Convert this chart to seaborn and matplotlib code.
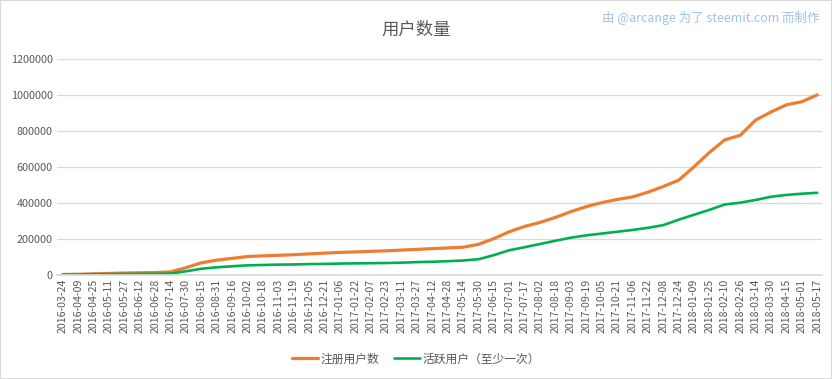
import numpy as np
import pandas as pd
import seaborn as sns
import matplotlib.pyplot as plt
from matplotlib.patches import Rectangle

# Tick dates (every 16 days) and values at those dates
tick_labels = [
    "2016-03-24", "2016-04-09", "2016-04-25", "2016-05-11", "2016-05-27",
    "2016-06-12", "2016-06-28", "2016-07-14", "2016-07-30", "2016-08-15",
    "2016-08-31", "2016-09-16", "2016-10-02", "2016-10-18", "2016-11-03",
    "2016-11-19", "2016-12-05", "2016-12-21", "2017-01-06", "2017-01-22",
    "2017-02-07", "2017-02-23", "2017-03-11", "2017-03-27", "2017-04-12",
    "2017-04-28", "2017-05-14", "2017-05-30", "2017-06-15", "2017-07-01",
    "2017-07-17", "2017-08-02", "2017-08-18", "2017-09-03", "2017-09-19",
    "2017-10-05", "2017-10-21", "2017-11-06", "2017-11-22", "2017-12-08",
    "2017-12-24", "2018-01-09", "2018-01-25", "2018-02-10", "2018-02-26",
    "2018-03-14", "2018-03-30", "2018-04-15", "2018-05-01", "2018-05-17",
]

registered = [
    0, 1500, 4000, 6000, 8000, 9500, 11000, 15000, 38000, 65000,
    80000, 90000, 100000, 104000, 107000, 110000, 115000, 119000, 123000, 126000,
    129000, 132000, 136000, 140000, 144000, 148000, 152000, 168000, 200000, 238000,
    268000, 290000, 318000, 350000, 378000, 400000, 418000, 432000, 458000, 490000,
    525000, 600000, 680000, 750000, 775000, 860000, 905000, 945000, 962000, 1000000,
]

active = [
    0, 500, 1000, 2000, 3000, 3500, 4000, 5000, 18000, 32000,
    40000, 46000, 51000, 53000, 55000, 56000, 58000, 59000, 61000, 62000,
    63000, 64000, 66000, 69000, 71000, 74000, 78000, 85000, 108000, 135000,
    152000, 170000, 188000, 205000, 218000, 228000, 238000, 248000, 260000, 275000,
    305000, 333000, 360000, 390000, 400000, 415000, 433000, 443000, 450000, 455000,
]

series_names = ["注册用户数", "活跃用户（至少一次）"]
colors = ["#ED7D31", "#00B050"]
text_grey = "#595959"

sns.set_theme(style="white")
plt.rcParams["font.family"] = ["Noto Sans CJK SC", "DejaVu Sans"]

dates = pd.to_datetime(tick_labels)
df = pd.DataFrame({"date": dates, series_names[0]: registered, series_names[1]: active})

fig = plt.figure(figsize=(8.32, 3.79), dpi=100)
ax = fig.add_axes([0.0685, 0.2757, 0.9195, 0.5686])

sns.lineplot(data=df, x="date", y=series_names[0], ax=ax, color=colors[0], lw=2.3, label=series_names[0])
sns.lineplot(data=df, x="date", y=series_names[1], ax=ax, color=colors[1], lw=1.9, label=series_names[1])

ax.set_xlim(dates[0] - pd.Timedelta(days=6), dates[-1] + pd.Timedelta(days=5))
ax.set_xticks(dates)
ax.set_xticklabels(tick_labels, rotation=90, fontsize=7.6, color=text_grey)
ax.set_ylim(0, 1200000)
yticks = np.arange(0, 1200001, 200000)
ax.set_yticks(yticks)
ax.set_yticklabels([str(v) for v in yticks], fontsize=7.8, color=text_grey)
ax.yaxis.grid(True, color="#D9D9D9", lw=0.9)
ax.tick_params(length=0, pad=3)
ax.set_xlabel("")
ax.set_ylabel("")
for side in ["top", "left", "right"]:
    ax.spines[side].set_visible(False)
ax.spines["bottom"].set_color("#D9D9D9")

handles, labels = ax.get_legend_handles_labels()
ax.get_legend().remove()
fig.legend(handles, labels, loc="center", bbox_to_anchor=(0.5, 0.053), ncol=2,
           frameon=False, fontsize=8.5, handlelength=2.2, handletextpad=0.15,
           columnspacing=1.3, labelcolor=text_grey)

fig.text(0.5, 1 - 29.5 / 379, "用户数量", ha="center", va="center", fontsize=12.5, color=text_grey)
fig.text(820 / 832, 1 - 18 / 379, "由 @arcange 为了 steemit.com 而制作", ha="right", va="center",
         fontsize=9, color="#9DC3E6")

fig.patches.append(Rectangle((0, 0), 1, 1, transform=fig.transFigure, fill=False,
                             edgecolor="#D9D9D9", lw=1.5))

fig.savefig("out.png", dpi=100)
